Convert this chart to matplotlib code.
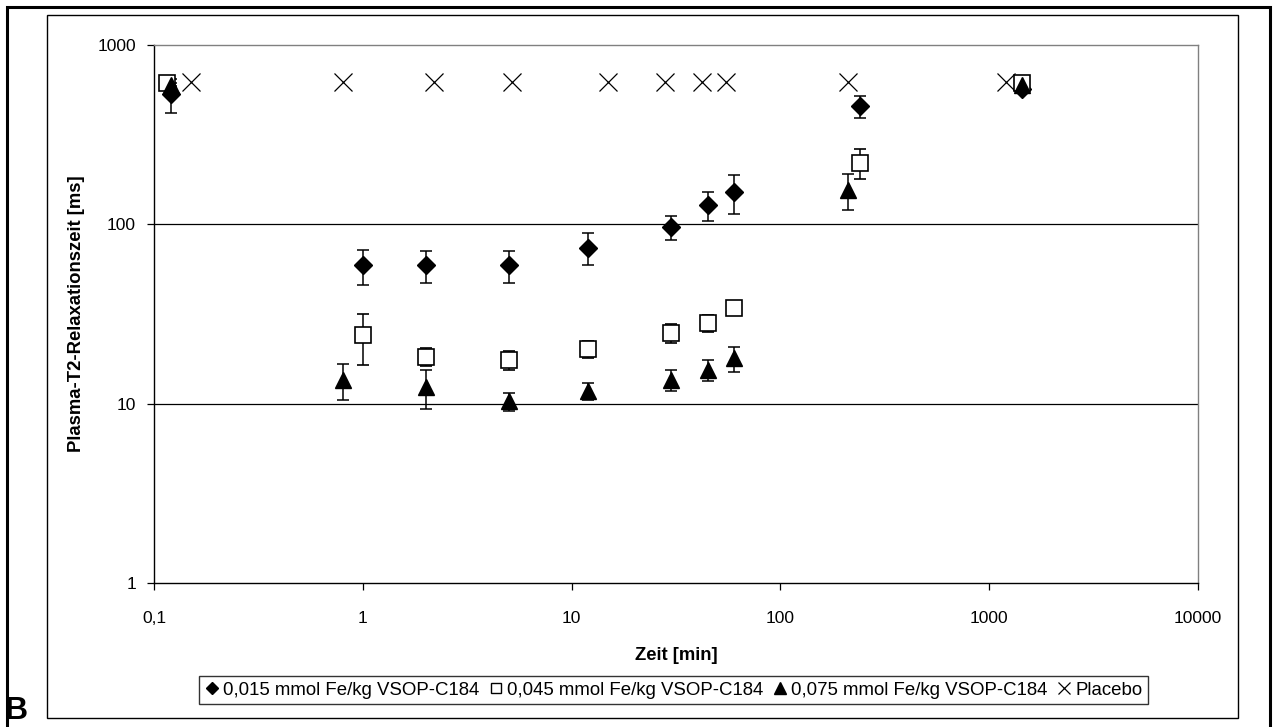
import matplotlib.pyplot as plt
from matplotlib.lines import Line2D
from matplotlib.patches import Rectangle
from matplotlib.ticker import FixedLocator, FixedFormatter, NullLocator

plt.rcParams['font.family'] = ['Liberation Sans', 'DejaVu Sans']

# Zeitpunkte [min] und T2-Relaxationszeiten [ms]
t_015 = [0.12, 1, 2, 5, 12, 30, 45, 60, 240, 1440]
y_015 = [533, 59, 59, 59, 74, 97, 128, 151, 457, 570]
e_015 = [116, 13, 12, 12, 15, 15, 24, 37, 65, 20]

t_045 = [0.115, 1, 2, 5, 12, 30, 45, 60, 240, 1440]
y_045 = [614, 24, 18.3, 17.5, 20.2, 24.8, 28.3, 34.3, 221, 614]
e_045 = [20, 7.5, 2.1, 2.1, 2.2, 3.1, 3.1, 2.5, 43, 20]

t_075 = [0.12, 0.8, 2, 5, 12, 30, 45, 60, 210, 1440]
y_075 = [600, 13.6, 12.4, 10.3, 11.8, 13.6, 15.4, 17.9, 155, 600]
e_075 = [10, 3.1, 3.1, 1.2, 1.3, 1.8, 2.1, 2.8, 35, 10]

t_plac = [0.15, 0.8, 2.2, 5.2, 15, 28, 42, 55, 210, 1200]
y_plac = [625, 625, 625, 625, 625, 625, 625, 625, 625, 625]

labels = ['0,015 mmol Fe/kg VSOP-C184', '0,045 mmol Fe/kg VSOP-C184',
          '0,075 mmol Fe/kg VSOP-C184', 'Placebo']
xticks = [0.1, 1, 10, 100, 1000, 10000]
xticklabels = ['0,1', '1', '10', '100', '1000', '10000']
yticks = [1, 10, 100, 1000]

W, H = 1274, 727
fig = plt.figure(figsize=(W / 100, H / 100), dpi=100)

# Rahmen
fig.add_artist(Rectangle((7 / W, -0.01), (1270 - 7) / W, 1 - 7 / H + 0.01,
                         transform=fig.transFigure, fill=False, lw=2.2, ec='black'))
fig.add_artist(Rectangle((47 / W, 1 - 718 / H), (1238 - 47) / W, (718 - 15) / H,
                         transform=fig.transFigure, fill=False, lw=1.0, ec='black'))

ax = fig.add_axes([154 / W, 1 - 583 / H, (1198 - 154) / W, (583 - 45) / H])
ax.set_xscale('log')
ax.set_yscale('log')
ax.set_xlim(0.1, 10000)
ax.set_ylim(1, 1000)

for yv in [10, 100]:
    ax.axhline(yv, color='black', lw=0.9, zorder=1)

ekw = dict(ls='none', ecolor='black', elinewidth=1.1, capsize=4, capthick=1.1, zorder=3)
ax.errorbar(t_015, y_015, yerr=e_015, marker='D', ms=9.5, mfc='black', mec='black', **ekw)
ax.errorbar(t_045, y_045, yerr=e_045, marker='s', ms=11, mfc='white', mec='black', mew=1.2, **ekw)
ax.errorbar(t_075, y_075, yerr=e_075, marker='^', ms=12, mfc='black', mec='black', **ekw)
ax.plot(t_plac, y_plac, ls='none', marker='x', ms=13, mew=0.9, color='black', zorder=3)

ax.xaxis.set_major_locator(FixedLocator(xticks))
ax.xaxis.set_major_formatter(FixedFormatter(xticklabels))
ax.xaxis.set_minor_locator(NullLocator())
ax.yaxis.set_major_locator(FixedLocator(yticks))
ax.yaxis.set_major_formatter(FixedFormatter([str(v) for v in yticks]))
ax.yaxis.set_minor_locator(NullLocator())
ax.tick_params(axis='both', direction='out', length=5, width=0.9, labelsize=12.5)
ax.tick_params(axis='x', pad=15)
ax.tick_params(axis='y', pad=8)

for s in ['left', 'bottom']:
    ax.spines[s].set_color('black')
    ax.spines[s].set_linewidth(1.0)
for s in ['top', 'right']:
    ax.spines[s].set_color('#808080')
    ax.spines[s].set_linewidth(1.0)

ax.set_xlabel('Zeit [min]', fontsize=13.3, fontweight='bold', labelpad=15)
ax.set_ylabel('Plasma-T2-Relaxationszeit [ms]', fontsize=13.3, fontweight='bold', labelpad=9)

handles = [
    Line2D([], [], ls='none', marker='D', ms=6, mfc='black', mec='black'),
    Line2D([], [], ls='none', marker='s', ms=7, mfc='white', mec='black', mew=1.0),
    Line2D([], [], ls='none', marker='^', ms=8, mfc='black', mec='black'),
    Line2D([], [], ls='none', marker='x', ms=8, mew=0.9, color='black'),
]
leg = fig.legend(handles, labels, loc='center', bbox_to_anchor=(673.5 / W, 1 - 690 / H),
                 ncol=4, fontsize=13.4, frameon=True, fancybox=False, edgecolor='black',
                 handlelength=0.8, handletextpad=0.2, columnspacing=0.5,
                 borderpad=0.3, borderaxespad=0)
leg.get_frame().set_linewidth(1.0)

fig.text(5 / W, 1 / H, 'B', fontsize=23, fontweight='bold', ha='left', va='bottom')

fig.savefig('out.png', dpi=100)
